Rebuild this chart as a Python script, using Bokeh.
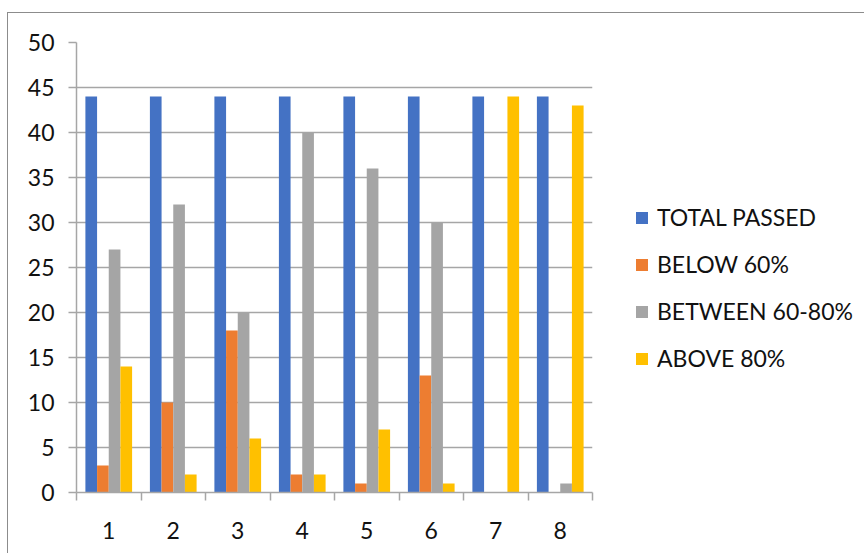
from bokeh.plotting import figure
from bokeh.models import ColumnDataSource, Range1d, FixedTicker, Legend, LegendItem
from bokeh.transform import dodge
from bokeh.embed import file_html
from bokeh.resources import INLINE

categories = [1, 2, 3, 4, 5, 6, 7, 8]
tick_labels = ["1", "2", "3", "4", "5", "6", "7", "8"]
total_passed = [44, 44, 44, 44, 44, 44, 44, 44]
below_60 = [3, 10, 18, 2, 1, 13, 0, 0]
between_60_80 = [27, 32, 20, 40, 36, 30, 0, 1]
above_80 = [14, 2, 6, 2, 7, 1, 44, 43]

series_names = ["TOTAL PASSED", "BELOW 60%", "BETWEEN 60-80%", "ABOVE 80%"]
series_keys = ["total", "below", "between", "above"]
colors = ["#4472C4", "#ED7D31", "#A5A5A5", "#FFC000"]

source = ColumnDataSource(dict(x=categories, total=total_passed, below=below_60,
                               between=between_60_80, above=above_80))

FONT = "Lato"
FS = "23px"
GRID = "#a6a6a6"

p = figure(width=848, height=540, output_backend="svg", toolbar_location=None,
           x_range=Range1d(0.5, 8.5), y_range=Range1d(0, 50),
           min_border_left=68, min_border_top=29, min_border_right=264,
           min_border_bottom=61)
p.frame_width = 516
p.frame_height = 450
p.outline_line_color = None
p.background_fill_color = "white"
p.border_fill_color = "white"
p.styles = {"margin-left": "7px", "margin-top": "12px",
            "border-left": "1px solid #8c8c8c", "border-top": "1px solid #8c8c8c"}

w = 0.181
offsets = [-1.5 * w, -0.5 * w, 0.5 * w, 1.5 * w]
renderers = []
for key, c, off in zip(series_keys, colors, offsets):
    r = p.vbar(x=dodge("x", off), top=key, width=w, bottom=0, source=source,
               fill_color=c, line_color=None)
    renderers.append(r)

# axes
p.xaxis.ticker = FixedTicker(ticks=categories,
                             minor_ticks=[c - 0.5 for c in categories] + [categories[-1] + 0.5])
p.xaxis.major_label_overrides = {c: t for c, t in zip(categories, tick_labels)}
p.xaxis.major_tick_line_color = None
p.xaxis.major_tick_out = 0
p.xaxis.major_tick_in = 0
p.xaxis.minor_tick_line_color = GRID
p.xaxis.minor_tick_line_width = 1.5
p.xaxis.minor_tick_out = 8
p.xaxis.minor_tick_in = 0
p.xaxis.axis_line_color = GRID
p.xaxis.axis_line_width = 1.5
p.xaxis.major_label_standoff = 21

p.yaxis.ticker = FixedTicker(ticks=list(range(0, 51, 5)))
p.yaxis.major_tick_line_color = GRID
p.yaxis.major_tick_line_width = 1.5
p.yaxis.major_tick_out = 8
p.yaxis.major_tick_in = 0
p.yaxis.minor_tick_line_color = None
p.yaxis.axis_line_color = GRID
p.yaxis.axis_line_width = 1.5
p.yaxis.major_label_standoff = 14

for ax in (p.xaxis, p.yaxis):
    ax.major_label_text_font = FONT
    ax.major_label_text_font_size = FS
    ax.major_label_text_color = "#111111"

p.xgrid.grid_line_color = None
p.ygrid.ticker = FixedTicker(ticks=list(range(0, 51, 5)))
p.ygrid.grid_line_color = GRID
p.ygrid.grid_line_width = 1.5

legend = Legend(items=[LegendItem(label=n, renderers=[r]) for n, r in zip(series_names, renderers)],
                location=(42, 120), orientation="vertical")
legend.border_line_color = None
legend.background_fill_alpha = 0
legend.padding = 0
legend.margin = 0
legend.glyph_width = 15
legend.glyph_height = 15
legend.label_height = 15
legend.spacing = 19
legend.label_standoff = 8
legend.label_text_font = FONT
legend.label_text_font_size = FS
legend.label_text_color = "#111111"
p.add_layout(legend, "right")

open("out.html", "w").write(file_html(p, INLINE))
